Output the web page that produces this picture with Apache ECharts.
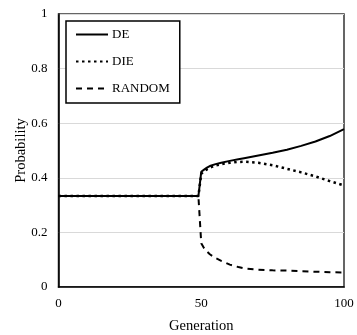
<!DOCTYPE html>
<html>
<head>
<meta charset="utf-8">
<script src="https://cdn.jsdelivr.net/npm/echarts@6/dist/echarts.min.js"></script>
<style>
  html, body { margin: 0; padding: 0; background: #fff; }
  #chart { width: 357px; height: 335px; }
</style>
</head>
<body>
<div id="chart"></div>
<script>
// Generations at which the probabilities were sampled
const generations = [0, 49, 50, 51, 52, 53, 55, 57, 60, 63, 65, 70, 75, 80, 85, 90, 95, 100];
// Selection probability of each strategy
const deValues     = [0.333, 0.333, 0.422, 0.430, 0.437, 0.443, 0.450, 0.455, 0.462, 0.468, 0.472, 0.482, 0.492, 0.503, 0.517, 0.533, 0.553, 0.578];
const dieValues    = [0.333, 0.333, 0.415, 0.424, 0.431, 0.437, 0.445, 0.450, 0.455, 0.458, 0.459, 0.455, 0.446, 0.433, 0.420, 0.405, 0.388, 0.372];
const randomValues = [0.333, 0.333, 0.160, 0.142, 0.130, 0.120, 0.106, 0.096, 0.082, 0.073, 0.068, 0.063, 0.061, 0.060, 0.058, 0.056, 0.054, 0.053];
const seriesNames = ['DE', 'DIE', 'RANDOM'];

const pairs = vals => generations.map((g, i) => [g, vals[i]]);
const font = 'Liberation Serif, Times New Roman, serif';

const chart = echarts.init(document.getElementById('chart'), null, { renderer: 'canvas' });
chart.setOption({
  animation: false,
  backgroundColor: '#fff',
  textStyle: { fontFamily: font, color: '#000' },
  grid: {
    left: 58.5, right: 13, top: 14, bottom: 48,
    outerBoundsMode: 'none', containLabel: false,
    show: true, borderColor: '#333', borderWidth: 1.5, backgroundColor: 'transparent'
  },
  legend: {
    orient: 'vertical',
    left: 66, top: 21,
    padding: [7, 10, 8, 9],
    itemGap: 14,
    itemWidth: 32, itemHeight: 14,
    borderColor: '#000', borderWidth: 1.5,
    backgroundColor: '#fff',
    itemStyle: { opacity: 0 },
    textStyle: { fontFamily: font, fontSize: 13, color: '#000', padding: [0, 0, 0, -1] },
    data: seriesNames
  },
  xAxis: {
    type: 'value', min: 0, max: 100, interval: 50,
    name: 'Generation', nameLocation: 'middle', nameGap: 32,
    nameMoveOverlap: false,
    nameTextStyle: { fontFamily: font, fontSize: 14.5, color: '#000' },
    axisLine: { show: true, lineStyle: { color: '#000', width: 1.5 } },
    axisTick: { show: false },
    axisLabel: { fontFamily: font, fontSize: 13, color: '#000', margin: 10 },
    splitLine: { show: false }
  },
  yAxis: {
    type: 'value', min: 0, max: 1, interval: 0.2,
    name: 'Probability', nameLocation: 'middle', nameGap: 30,
    nameMoveOverlap: false,
    nameTextStyle: { fontFamily: font, fontSize: 14.5, color: '#000' },
    axisLine: { show: true, lineStyle: { color: '#000', width: 1.5 } },
    axisTick: { show: false },
    axisLabel: { fontFamily: font, fontSize: 13, color: '#000', margin: 11 },
    splitLine: { show: true, lineStyle: { color: '#d9d9d9', width: 1 } }
  },
  series: [
    {
      name: 'DE', type: 'line', data: pairs(deValues), symbol: 'none',
      lineStyle: { color: '#000', width: 2, type: 'solid' },
      itemStyle: { color: '#000' }, z: 3
    },
    {
      name: 'DIE', type: 'line', data: pairs(dieValues), symbol: 'none',
      lineStyle: { color: '#000', width: 2.5, type: [2.5, 3.5] },
      itemStyle: { color: '#000' }, z: 4
    },
    {
      name: 'RANDOM', type: 'line', data: pairs(randomValues), symbol: 'none',
      lineStyle: { color: '#000', width: 2, type: [6, 5] },
      itemStyle: { color: '#000' }, z: 2
    }
  ]
});
</script>
</body>
</html>
